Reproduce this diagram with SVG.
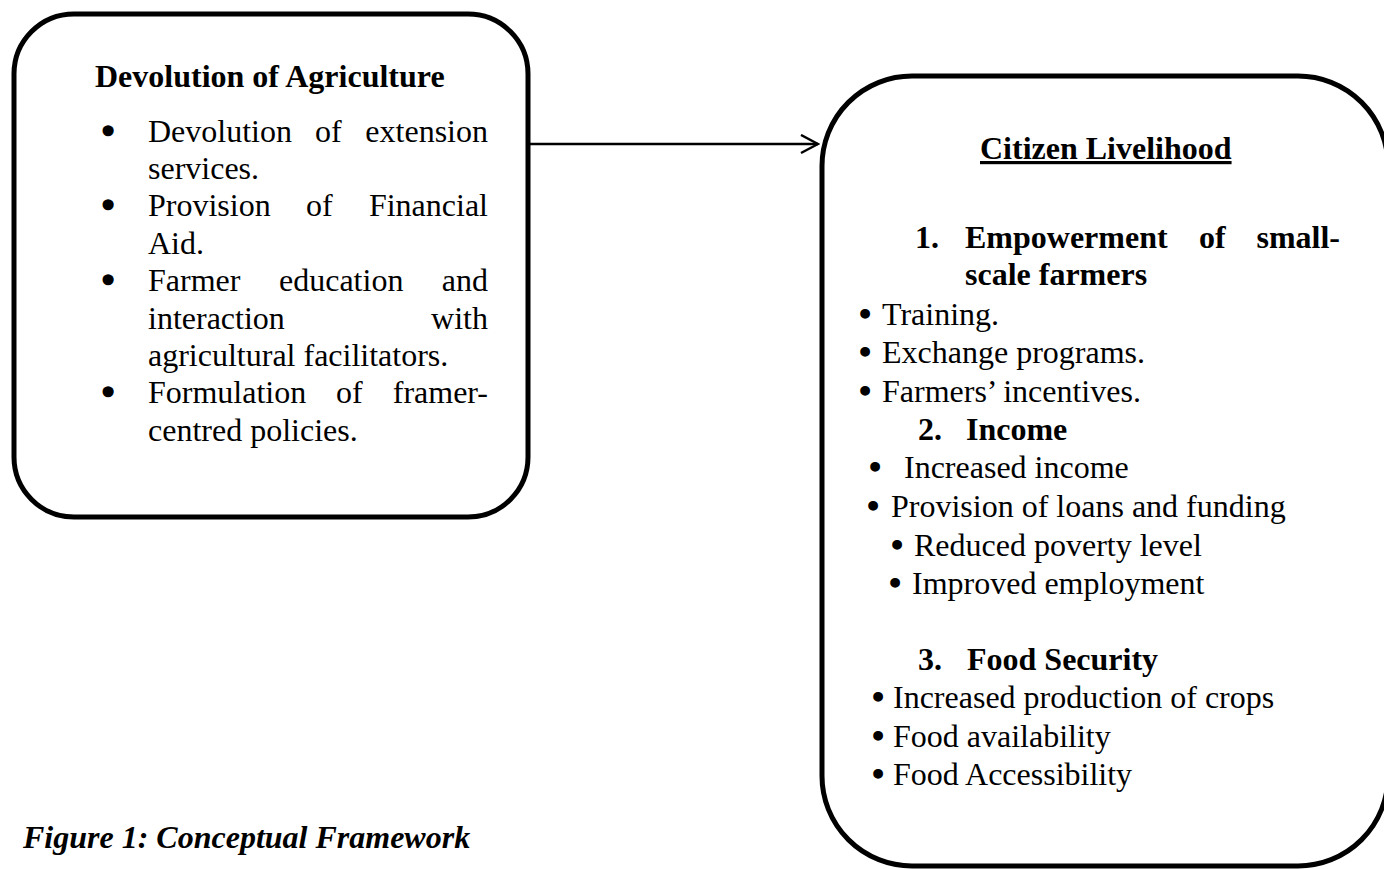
<svg xmlns="http://www.w3.org/2000/svg" width="1384" height="869" viewBox="0 0 1384 869">
<style>
.box{fill:#fff;stroke:#000;stroke-width:5}
text{font-family:"Liberation Serif","Times New Roman",serif;font-size:32px;fill:#000}
.b{font-weight:bold}
.bi{font-weight:bold;font-style:italic}
.bul{text-anchor:middle;stroke:#000;stroke-width:3.5;stroke-linejoin:round}
.bul2{text-anchor:middle;stroke:#000;stroke-width:2.2;stroke-linejoin:round}
.end{text-anchor:end}
.conn{fill:none;stroke:#000;stroke-width:2.5}
</style>
<defs>
<marker id="arr" markerWidth="20" markerHeight="24" refX="18" refY="10" orient="auto" markerUnits="userSpaceOnUse">
<path d="M1,1 L18,10 L1,19" fill="none" stroke="#000" stroke-width="2.5"/>
</marker>
</defs>
<rect width="1384" height="869" fill="#fff"/>
<g id="node-devolution">
<rect class="box" x="14" y="14" width="514" height="503" rx="60" ry="60"/>
<text class="b" x="95" y="87">Devolution of Agriculture</text>
<text class="bul" x="108" y="142">•</text>
<text x="148" y="142">Devolution</text><text x="315" y="142">of</text><text class="end" x="488" y="142">extension</text>
<text x="148" y="179">services.</text>
<text class="bul" x="108" y="216">•</text>
<text x="148" y="216">Provision</text><text x="306" y="216">of</text><text class="end" x="488" y="216">Financial</text>
<text x="148" y="254">Aid.</text>
<text class="bul" x="108" y="291">•</text>
<text x="148" y="291">Farmer</text><text x="279" y="291">education</text><text class="end" x="488" y="291">and</text>
<text x="148" y="329">interaction</text><text class="end" x="488" y="329">with</text>
<text x="148" y="366">agricultural facilitators.</text>
<text class="bul" x="108" y="403">•</text>
<text x="148" y="403">Formulation</text><text x="336" y="403">of</text><text class="end" x="488" y="403">framer-</text>
<text x="148" y="441">centred policies.</text>
</g>
<g id="node-citizen-livelihood">
<rect class="box" x="822" y="76" width="566" height="790" rx="90" ry="90"/>
<text class="b" x="980" y="159" text-decoration="underline">Citizen Livelihood</text>
<text class="b" x="915" y="248">1.</text>
<text class="b" x="965" y="248">Empowerment</text><text class="b" x="1199" y="248">of</text><text class="b end" x="1340" y="248">small-</text>
<text class="b" x="965" y="285">scale farmers</text>
<text class="bul2" x="865" y="325">•</text><text x="882" y="325">Training.</text>
<text class="bul2" x="865" y="363">•</text><text x="882" y="363">Exchange programs.</text>
<text class="bul2" x="865" y="402">•</text><text x="882" y="402">Farmers’ incentives.</text>
<text class="b" x="918" y="440">2.</text><text class="b" x="966" y="440">Income</text>
<text class="bul2" x="875" y="478">•</text><text x="904" y="478">Increased income</text>
<text class="bul2" x="873" y="517">•</text><text x="891" y="517">Provision of loans and funding</text>
<text class="bul2" x="897" y="556">•</text><text x="914" y="556">Reduced poverty level</text>
<text class="bul2" x="895" y="594">•</text><text x="912" y="594">Improved employment</text>
<text class="b" x="918" y="670">3.</text><text class="b" x="967" y="670">Food Security</text>
<text class="bul2" x="878" y="708">•</text><text x="893" y="708">Increased production of crops</text>
<text class="bul2" x="878" y="747">•</text><text x="893" y="747">Food availability</text>
<text class="bul2" x="878" y="785">•</text><text x="893" y="785">Food Accessibility</text>
</g>
<g id="connectors">
<path class="conn" d="M528,144 L818,144" marker-end="url(#arr)"/>
</g>
<text class="bi" x="23" y="848">Figure 1: Conceptual Framework</text>
</svg>
